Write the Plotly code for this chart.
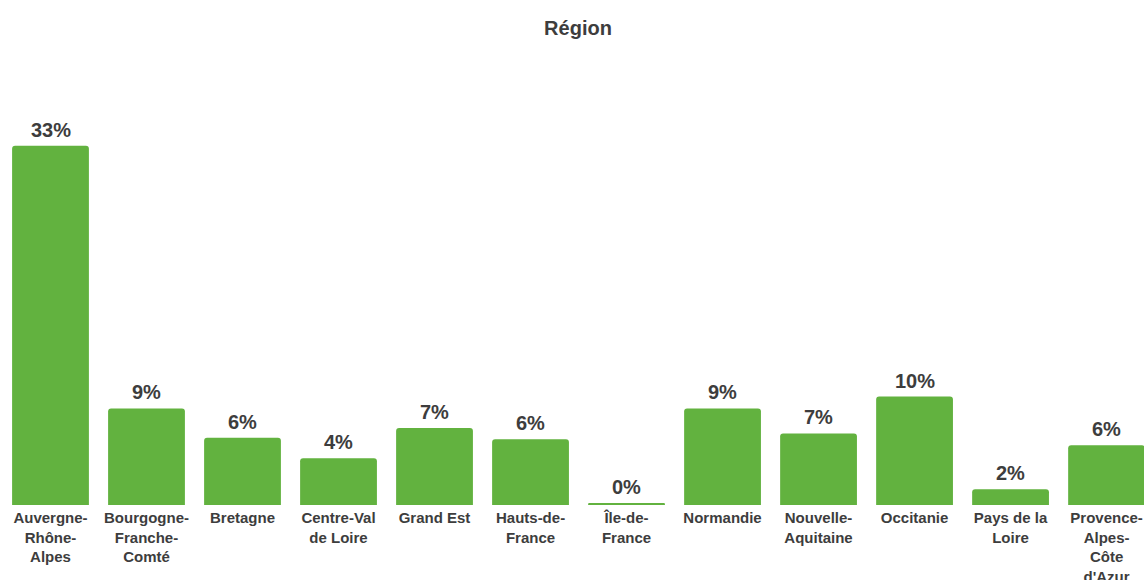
import plotly.graph_objects as go

categories = [
    "Auvergne-<br>Rhône-<br>Alpes",
    "Bourgogne-<br>Franche-<br>Comté",
    "Bretagne",
    "Centre-Val<br>de Loire",
    "Grand Est",
    "Hauts-de-<br>France",
    "Île-de-<br>France",
    "Normandie",
    "Nouvelle-<br>Aquitaine",
    "Occitanie",
    "Pays de la<br>Loire",
    "Provence-<br>Alpes-<br>Côte<br>d'Azur",
]
values = [33.1, 8.9, 6.2, 4.3, 7.1, 6.05, 0.15, 8.9, 6.6, 10.0, 1.45, 5.5]
value_labels = ["33%", "9%", "6%", "4%", "7%", "6%", "0%", "9%", "7%", "10%", "2%", "6%"]

GREEN = "#62b23f"
TEXT = "#3d3d3d"
FONT = "Liberation Sans, Arial, sans-serif"

fig = go.Figure(
    go.Bar(
        x=list(range(len(categories))),
        y=values,
        marker=dict(color=GREEN, line=dict(width=0)),
        cliponaxis=False,
        hoverinfo="skip",
    )
)

for i, (v, lab) in enumerate(zip(values, value_labels)):
    fig.add_annotation(
        x=i, y=v, text=lab, showarrow=False,
        xanchor="center", yanchor="bottom", yshift=3,
        font=dict(family=FONT, size=20, color=TEXT, weight="bold"),
    )

fig.update_layout(
    width=1144,
    height=580,
    margin=dict(l=0, r=0, t=80, b=75),
    paper_bgcolor="white",
    plot_bgcolor="white",
    bargap=0.2,
    barcornerradius=3,
    showlegend=False,
    title=dict(
        text="Région",
        x=578 / 1144,
        xanchor="center",
        y=1 - 28 / 580,
        yanchor="middle",
        font=dict(family=FONT, size=20, color=TEXT, weight="bold"),
    ),
    xaxis=dict(
        range=[-0.526, 11.39],
        tickmode="array",
        tickvals=list(range(len(categories))),
        ticktext=categories,
        tickfont=dict(family=FONT, size=15, color=TEXT, weight="bold"),
        showgrid=False,
        showline=False,
        zeroline=False,
        ticks="",
        ticklabelstandoff=2,
        automargin=False,
        fixedrange=True,
    ),
    yaxis=dict(
        range=[0, 39.17],
        visible=False,
        showgrid=False,
        zeroline=False,
        automargin=False,
        fixedrange=True,
    ),
)

fig.write_html("out.html")
